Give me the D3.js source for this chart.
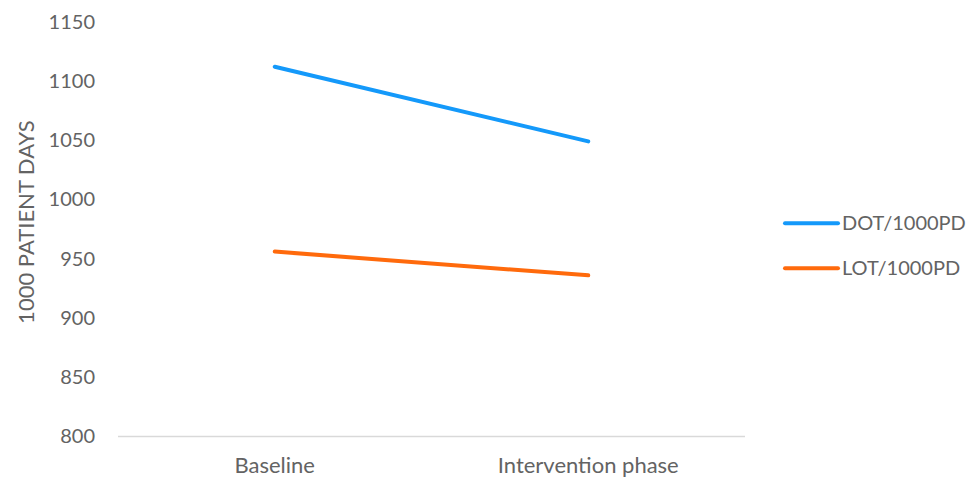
<!DOCTYPE html>
<html>
<head>
<meta charset="utf-8">
<script src="https://cdn.jsdelivr.net/npm/d3@7"></script>
<style>
  html, body { margin: 0; padding: 0; background: #fff; }
  svg { display: block; }
  text { font-family: Lato, "Open Sans", sans-serif; fill: #636363; }
</style>
</head>
<body>
<svg id="chart" width="971" height="482"></svg>
<script>
// Antibiotic use per 1000 patient days, by study phase
const phases = ["Baseline", "Intervention phase"];
const dotValues = [1112, 1049];
const lotValues = [956, 936];
const seriesNames = ["DOT/1000PD", "LOT/1000PD"];
const seriesColors = ["#1499fa", "#ff6a0c"];
const yTicks = [800, 850, 900, 950, 1000, 1050, 1100, 1150];
const yTitle = "1000 PATIENT DAYS";

const series = [
  { name: seriesNames[0], color: seriesColors[0], values: dotValues },
  { name: seriesNames[1], color: seriesColors[1], values: lotValues }
];

const svg = d3.select("#chart");
const margin = { left: 118, right: 226, top: 21.7, bottom: 45.5 };
const W = 971, H = 482;

const x = d3.scaleBand().domain(phases).range([margin.left, W - margin.right]);
const y = d3.scaleLinear().domain([800, 1150]).range([H - margin.bottom, margin.top]);

// horizontal axis line at the bottom of the plot
svg.append("line")
  .attr("x1", margin.left).attr("x2", W - margin.right)
  .attr("y1", y(800)).attr("y2", y(800))
  .attr("stroke", "#d9d9d9").attr("stroke-width", 1.3);

// y axis tick labels
const yAxis = d3.axisLeft(y).tickValues(yTicks).tickFormat(d3.format("d"))
  .tickSize(0).tickPadding(0);
const gy = svg.append("g").attr("transform", `translate(95,0)`).call(yAxis);
gy.select(".domain").remove();
gy.selectAll("text").style("font-size", "20px").attr("fill", "#636363")
  .style("font-family", "Lato, sans-serif");

// x axis category labels
const xAxis = d3.axisBottom(x).tickSize(0).tickPadding(0);
const gx = svg.append("g").attr("transform", `translate(0,${y(800) + 21})`).call(xAxis);
gx.select(".domain").remove();
gx.selectAll("text").style("font-size", "22px").attr("fill", "#636363")
  .style("font-family", "Lato, sans-serif");

// y axis title
svg.append("text")
  .attr("transform", `translate(26,${(y(800) + y(1150)) / 2 - 7}) rotate(-90)`)
  .attr("text-anchor", "middle")
  .attr("dy", "0.35em")
  .style("font-size", "22px")
  .text(yTitle);

// series lines
const line = d3.line()
  .x((d, i) => x(phases[i]) + x.bandwidth() / 2)
  .y(d => y(d));

svg.selectAll("path.series")
  .data(series)
  .join("path")
  .attr("class", "series")
  .attr("d", d => line(d.values))
  .attr("fill", "none")
  .attr("stroke", d => d.color)
  .attr("stroke-width", 4)
  .attr("stroke-linecap", "round");

// legend
const legend = svg.append("g");
series.forEach((s, i) => {
  const ly = 223.3 + i * 45;
  legend.append("line")
    .attr("x1", 785).attr("x2", 838)
    .attr("y1", ly).attr("y2", ly)
    .attr("stroke", s.color).attr("stroke-width", 4)
    .attr("stroke-linecap", "round");
  legend.append("text")
    .attr("x", 842).attr("y", ly)
    .attr("dy", "0.35em")
    .style("font-size", "20px")
    .text(s.name);
});
</script>
</body>
</html>
